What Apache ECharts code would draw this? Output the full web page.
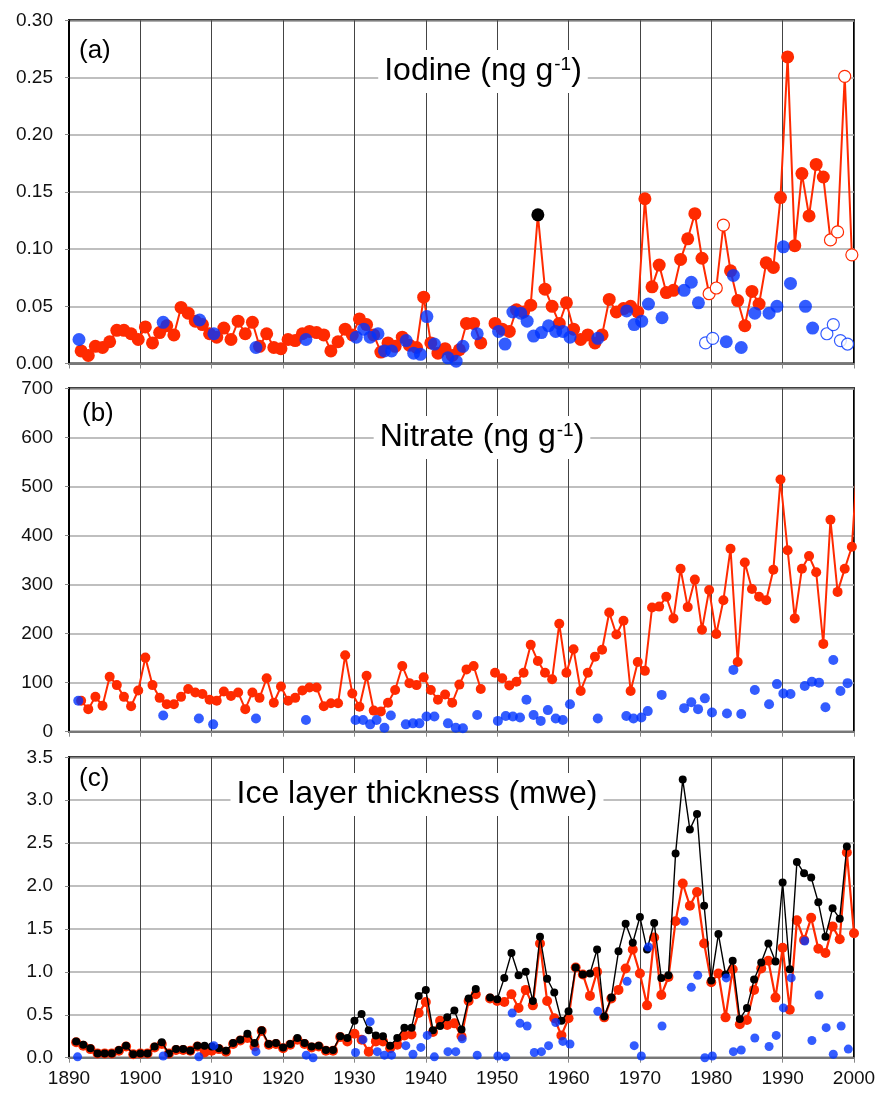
<!DOCTYPE html>
<html>
<head>
<meta charset="utf-8">
<script src="https://cdn.jsdelivr.net/npm/echarts@6/dist/echarts.min.js"></script>
<style>
html, body { margin: 0; padding: 0; background: #fff; }
#main { width: 879px; height: 1094px; }
</style>
</head>
<body>
<div id="main"></div>
<script>
var FONT = '"Liberation Sans", Arial, sans-serif';
var RED = '#ff2a00', BLUE = '#0033ff', BLACK = '#000';

// (a) iodine, red line: one value per year from 1891.7
var iodineRed = [
  0.011,0.007,0.015,0.014,0.019,0.029,0.029,0.026,0.021,0.032,
  0.018,0.027,0.033,0.025,0.049,0.044,0.037,0.034,0.026,0.023,
  0.031,0.021,0.037,0.026,0.036,0.015,0.026,0.014,0.013,0.021,
  0.020,0.026,0.028,0.027,0.025,0.011,0.019,0.030,0.025,0.039,
  0.034,0.025,0.010,0.018,0.015,0.023,0.016,0.014,0.058,0.018,
  0.009,0.013,0.007,0.012,0.035,0.035,0.018,null,0.035,0.030,
  0.028,0.047,0.045,0.051,0.130,0.065,0.050,0.035,0.053,0.030,
  0.021,0.025,0.018,0.025,0.056,0.045,0.048,0.050,0.045,0.144,
  0.067,0.086,0.062,0.064,0.091,0.109,0.131,0.092,0.061,0.066,
  0.121,0.081,0.055,0.033,0.063,0.052,0.088,0.084,0.145,0.268,
  0.103,0.166,0.129,0.174,0.163,0.108,0.115,0.251,0.095
];
var iodineOpenYears = [1979.7, 1980.7, 1981.7, 1996.7, 1997.7, 1998.7, 1999.7];
var iodineBlackYear = 1955.7;

var iodineBlueYears = [1891.4,1903.2,1908.3,1910.3,1916.2,1923.2,1930.25,1931.3,1932.2,1933.3,
  1934.2,1935.2,1937.25,1938.3,1939.25,1940.15,1941.2,1943.1,1944.25,1945.2,
  1947.2,1950.2,1951.1,1952.2,1953.3,1954.2,1955.1,1956.2,1957.2,1958.2,
  1959.2,1960.2,1964.1,1968.15,1969.2,1970.25,1971.2,1973.1,1976.2,1977.2,
  1978.2,1982.1,1983.1,1984.2,1986.1,1988.1,1989.2,1990.1,1991.1,1993.2,1994.2];
var iodineBlue = [0.021,0.036,0.038,0.026,0.014,0.021,0.023,0.030,0.023,0.026,
  0.011,0.011,0.020,0.009,0.008,0.041,0.017,0.005,0.002,0.015,
  0.026,0.028,0.017,0.045,0.044,0.037,0.024,0.027,0.033,0.028,
  0.028,0.023,0.022,0.046,0.034,0.037,0.052,0.040,0.064,0.071,
  0.053,0.019,0.077,0.014,0.044,0.044,0.050,0.102,0.070,0.050,0.031];
var iodineBlueOpenYears = [1979.2, 1980.2, 1996.2, 1997.1, 1998.1, 1999.1];
var iodineBlueOpen = [0.018, 0.022, 0.026, 0.034, 0.020, 0.017];

// (b) nitrate, red line: one value per year from 1891.7 (last one runs off the right edge)
var nitrateRed = [
  63,46,71,53,112,95,71,52,84,151,
  95,69,56,56,71,87,80,77,65,63,
  82,73,80,46,80,69,109,59,92,63,
  69,84,90,90,52,58,58,156,78,51,
  114,43,41,59,85,134,99,95,111,85,
  65,76,59,96,127,134,87,null,120,109,
  94,102,120,177,144,120,107,220,120,168,
  83,120,153,167,243,198,226,83,142,124,
  253,255,275,231,332,254,310,208,289,199,
  268,373,142,345,291,275,268,330,514,370,
  231,332,358,325,179,432,285,332,377,600
];
var nitrateBlueYears = [1891.3,1903.2,1908.2,1910.2,1916.2,1923.2,1930.15,1931.2,1932.2,1933.1,
  1934.2,1935.1,1937.2,1938.2,1939.1,1940.1,1941.2,1943.1,1944.2,1945.2,
  1947.2,1950.1,1951.2,1952.2,1953.2,1954.1,1955.1,1956.1,1957.1,1958.2,
  1959.2,1960.2,1964.1,1968.1,1969.1,1970.2,1971.1,1973.05,1976.2,1977.2,
  1978.15,1979.1,1980.1,1982.2,1983.1,1984.2,1986.1,1988.1,1989.2,1990.1,
  1991.1,1993.1,1994.1,1995.1,1996.0,1997.1,1998.1,1999.1];
var nitrateBlue = [63,33,27,15,27,24,24,24,15,24,
  8,33,15,17,17,31,31,17,8,7,
  34,22,32,31,29,65,34,22,44,27,
  24,56,27,32,27,29,42,75,48,60,
  46,68,39,37,126,36,85,56,97,78,
  77,93,102,100,50,146,83,99];

// (c) ice layer thickness: one value per year from 1891
var iceBlack = [
  0.19,0.15,0.11,0.05,0.05,0.05,0.09,0.14,0.04,0.05,
  0.05,0.13,0.18,0.05,0.10,0.10,0.08,0.14,0.14,0.13,
  0.11,0.08,0.17,0.21,0.28,0.17,0.32,0.16,0.17,0.12,
  0.16,0.23,0.17,0.13,0.14,0.09,0.09,0.25,0.23,0.43,
  0.51,0.32,0.26,0.25,0.14,0.23,0.35,0.35,0.72,0.79,
  0.32,0.37,0.47,0.55,0.33,0.69,0.80,null,0.70,0.68,
  0.93,1.22,0.96,1.00,0.66,1.41,0.92,0.76,0.43,0.54,
  1.05,0.97,0.98,1.26,0.48,0.70,1.24,1.56,1.34,1.64,
  1.26,1.57,0.93,0.96,2.38,3.24,2.66,2.84,1.77,0.90,
  1.44,0.97,1.13,0.45,0.58,0.91,1.11,1.33,1.12,2.04,
  1.03,2.28,2.15,2.10,1.81,1.41,1.74,1.62,2.46
];
var iceRed = [
  0.18,0.14,0.10,0.05,0.05,0.05,0.08,0.13,0.04,0.05,
  0.05,0.12,0.16,0.05,0.09,0.09,0.08,0.13,0.06,0.08,
  0.10,0.07,0.16,0.20,0.23,0.13,0.31,0.15,0.16,0.11,
  0.15,0.21,0.16,0.12,0.13,0.08,0.08,0.24,0.19,0.28,
  0.21,0.07,0.19,0.19,0.11,0.15,0.26,0.27,0.52,0.65,
  0.30,0.43,0.38,0.40,0.25,0.66,0.74,null,0.69,0.66,
  0.65,0.74,0.58,0.79,0.61,1.33,0.66,0.46,0.26,0.46,
  1.05,0.97,0.72,1.00,0.47,0.69,0.79,1.04,1.26,0.98,
  0.61,1.40,0.73,0.94,1.59,2.03,1.77,1.93,1.33,0.88,
  0.98,0.47,1.03,0.39,0.44,0.79,1.04,1.13,0.70,1.28,
  0.56,1.60,1.37,1.63,1.27,1.22,1.53,1.38,2.39,1.45
];
var iceBlueYears = [1891.2,1903.2,1908.2,1910.3,1916.2,1923.25,1924.2,1930.15,1931.2,1932.2,
  1933.2,1934.2,1935.2,1937.2,1938.2,1939.3,1940.2,1941.2,1943.1,1944.2,
  1945.1,1947.2,1950.1,1951.2,1952.1,1953.2,1954.2,1955.2,1956.2,1957.2,
  1958.2,1959.2,1960.2,1964.1,1968.2,1969.2,1970.2,1971.2,1973.1,1976.2,
  1977.2,1978.1,1979.1,1980.15,1982.1,1983.1,1984.2,1986.1,1988.1,1989.1,
  1990.1,1991.2,1993.1,1994.1,1995.1,1996.1,1997.1,1998.2,1999.2];
var iceBlue = [0.01,0.02,0.01,0.14,0.07,0.03,0.00,0.06,0.21,0.42,
  0.07,0.03,0.03,0.14,0.04,0.12,0.26,0.01,0.07,0.07,
  0.22,0.03,0.02,0.01,0.52,0.40,0.37,0.06,0.07,0.14,
  0.41,0.19,0.16,0.54,0.89,0.14,0.02,1.29,0.37,1.59,
  0.82,0.96,0.00,0.02,0.93,0.07,0.09,0.23,0.13,0.26,
  0.58,0.93,1.36,0.20,0.73,0.35,0.04,0.37,0.10];

// years counted in tenths so that they compare exactly with the literals above
function annual(start10, n) {
    var a = [];
    for (var i = 0; i < n; i++) a.push((start10 + i * 10) / 10);
    return a;
};
function pairs(xs, ys) {
    return ys.map(function (v, i) { return [xs[i], v === null ? '-' : v]; });
};

var iodineYears = annual(18917, iodineRed.length);
var nitrateYears = annual(18917, nitrateRed.length);
var iceYears = annual(18910, iceRed.length);

var iodineLineData = pairs(iodineYears, iodineRed).map(function (p) {
    if (p[0] === iodineBlackYear) {
        return { value: p, itemStyle: { color: BLACK } };
    }
    if (iodineOpenYears.indexOf(p[0]) >= 0) {
        return { value: p, itemStyle: { color: '#fff', borderColor: RED, borderWidth: 1.2 }, symbolSize: 12 };
    }
    return p;
});

var gridTops = [20.3, 388.3, 757.3];
var gridHeights = [343.2, 343.4, 300.4];

function xAxisFor(i) {
    return {
        type: 'value', gridIndex: i, min: 1890, max: 2000, interval: 10,
        axisLine: { show: true, lineStyle: { color: '#777', width: 2 } },
        axisTick: { show: true, length: 5, lineStyle: { color: '#888' } },
        axisLabel: {
            show: i === 2, margin: 12, color: '#111',
            fontFamily: FONT, fontSize: 19,
            formatter: function (v) { return String(v); }
        },
        splitLine: { show: true, lineStyle: { color: '#444', width: 1 } }
    };
};
function yAxisFor(i, max, interval, digits) {
    return {
        type: 'value', gridIndex: i, min: 0, max: max, interval: interval,
        axisLine: { show: true, lineStyle: { color: '#000', width: 2 } },
        axisTick: { show: true, length: 4, lineStyle: { color: '#888' } },
        axisLabel: {
            margin: 16, color: '#111', fontFamily: FONT, fontSize: 19,
            formatter: function (v) { return v.toFixed(digits); }
        },
        splitLine: { show: true, lineStyle: { color: '#aaa', width: 1.5 } }
    };
};

function panelTitle(text, cx, top) {
    return {
        text: text, left: cx, top: top, textAlign: 'center',
        backgroundColor: '#fff', padding: [3, 6],
        textStyle: {
            fontFamily: FONT, fontSize: 32, fontWeight: 'normal', color: '#000', lineHeight: 37,
            rich: { s: { fontFamily: FONT, fontSize: 19, verticalAlign: 'top', lineHeight: 20, padding: [2, 0, 0, 1] } }
        }
    };
};
function panelLetter(text, left, top) {
    return {
        text: text, left: left, top: top, padding: 0,
        textStyle: { fontFamily: FONT, fontSize: 26, fontWeight: 'normal', color: '#000' }
    };
};

var mychart = echarts.init(document.getElementById('main'));
var option = {
    animation: false,
    backgroundColor: '#fff',
    title: [
        panelLetter('(a)', 79, 38),
        panelLetter('(b)', 82, 401),
        panelLetter('(c)', 79, 766),
        panelTitle('Iodine (ng g{s|-1})', 477, 50),
        panelTitle('Nitrate (ng g{s|-1})', 476, 416),
        panelTitle('Ice layer thickness (mwe)', 411, 773)
    ],
    grid: gridTops.map(function (t, i) {
        return {
            left: 69, right: 25, top: t, height: gridHeights[i],
            show: true, borderColor: '#000', borderWidth: 2, backgroundColor: 'transparent'
        };
    }),
    xAxis: [xAxisFor(0), xAxisFor(1), xAxisFor(2)],
    yAxis: [
        yAxisFor(0, 0.30, 0.05, 2),
        yAxisFor(1, 700, 100, 0),
        yAxisFor(2, 3.5, 0.5, 1)
    ],
    series: [
        {
            name: 'iodine', type: 'line', xAxisIndex: 0, yAxisIndex: 0,
            symbol: 'circle', symbolSize: 13, connectNulls: false, z: 2,
            itemStyle: { color: RED },
            lineStyle: { color: RED, width: 2 },
            data: iodineLineData
        },
        {
            name: 'iodine low', type: 'scatter', xAxisIndex: 0, yAxisIndex: 0,
            symbolSize: 13, z: 4, itemStyle: { color: BLUE },
            data: pairs(iodineBlueYears, iodineBlue)
        },
        {
            name: 'iodine low open', type: 'scatter', xAxisIndex: 0, yAxisIndex: 0,
            symbolSize: 12, z: 4, itemStyle: { color: '#fff', borderColor: BLUE, borderWidth: 1.2 },
            data: pairs(iodineBlueOpenYears, iodineBlueOpen)
        },
        {
            name: 'nitrate', type: 'line', xAxisIndex: 1, yAxisIndex: 1,
            symbol: 'circle', symbolSize: 10, connectNulls: false, z: 2,
            itemStyle: { color: RED },
            lineStyle: { color: RED, width: 2 },
            data: pairs(nitrateYears, nitrateRed)
        },
        {
            name: 'nitrate low', type: 'scatter', xAxisIndex: 1, yAxisIndex: 1,
            symbolSize: 10, z: 4, itemStyle: { color: BLUE },
            data: pairs(nitrateBlueYears, nitrateBlue)
        },
        {
            name: 'ice red', type: 'line', xAxisIndex: 2, yAxisIndex: 2,
            symbol: 'circle', symbolSize: 10, connectNulls: false, z: 2,
            itemStyle: { color: RED },
            lineStyle: { color: RED, width: 2.2 },
            data: pairs(iceYears, iceRed)
        },
        {
            name: 'ice black', type: 'line', xAxisIndex: 2, yAxisIndex: 2,
            symbol: 'circle', symbolSize: 8, connectNulls: false, z: 3,
            itemStyle: { color: BLACK },
            lineStyle: { color: BLACK, width: 1.4 },
            data: pairs(annual(18910, iceBlack.length), iceBlack)
        },
        {
            name: 'ice low', type: 'scatter', xAxisIndex: 2, yAxisIndex: 2,
            symbolSize: 9, z: 4, itemStyle: { color: BLUE },
            data: pairs(iceBlueYears, iceBlue)
        }
    ]
};
mychart.setOption(option);
</script>
</body>
</html>
